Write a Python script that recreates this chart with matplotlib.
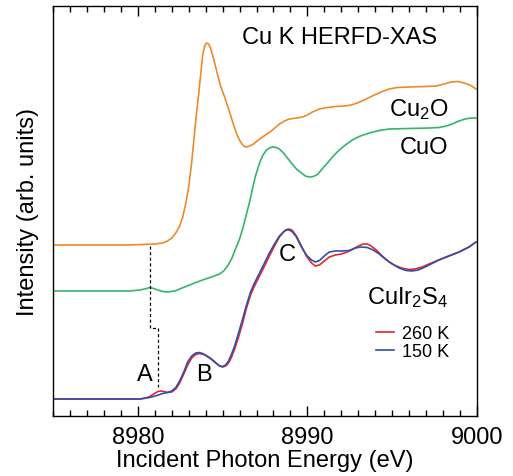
import matplotlib
matplotlib.use("Agg")
import matplotlib.pyplot as plt
from matplotlib.ticker import MultipleLocator

plt.rcParams['font.family'] = ['Liberation Sans', 'DejaVu Sans']
plt.rcParams['mathtext.default'] = 'regular'

# Cu2O reference (offset)
e_cu2o = [8975.00, 8979.53, 8981.00, 8981.47, 8981.76, 8982.00, 8982.24, 8982.47, 8982.65, 8982.82,
          8983.00, 8983.18, 8983.35, 8983.47, 8983.59, 8983.71, 8983.82, 8983.94, 8984.06, 8984.18,
          8984.29, 8984.41, 8984.53, 8984.71, 8984.88, 8985.12, 8985.41, 8985.65, 8985.88, 8986.06,
          8986.24, 8986.41, 8986.59, 8986.82, 8987.18, 8987.53, 8987.94, 8988.35, 8988.65, 8988.94,
          8989.35, 8989.71, 8990.00, 8990.29, 8990.71, 8991.18, 8991.65, 8992.18, 8992.59, 8992.94,
          8993.35, 8993.82, 8994.35, 8994.82, 8995.29, 8996.00, 8996.88, 8997.59, 8998.06, 8998.47,
          8998.88, 8999.24, 8999.59, 8999.94]
i_cu2o = [1.71, 1.71, 1.72, 1.73, 1.75, 1.78, 1.83, 1.90, 1.99, 2.12,
          2.29, 2.54, 2.84, 3.04, 3.22, 3.42, 3.60, 3.70, 3.73, 3.72,
          3.68, 3.61, 3.53, 3.41, 3.30, 3.19, 3.04, 2.91, 2.80, 2.74,
          2.70, 2.69, 2.70, 2.72, 2.77, 2.81, 2.86, 2.92, 2.95, 2.97,
          2.98, 2.99, 3.01, 3.04, 3.07, 3.085, 3.095, 3.10, 3.11, 3.13,
          3.16, 3.20, 3.24, 3.27, 3.285, 3.29, 3.295, 3.30, 3.32, 3.34,
          3.345, 3.33, 3.31, 3.27]

# CuO reference (offset)
e_cuo = [8975.00, 8979.53, 8980.12, 8980.41, 8980.71, 8980.94, 8981.18, 8981.47, 8981.76, 8982.18,
         8982.76, 8983.35, 8983.82, 8984.35, 8984.82, 8985.06, 8985.29, 8985.53, 8985.76, 8986.00,
         8986.18, 8986.41, 8986.59, 8986.76, 8986.94, 8987.18, 8987.35, 8987.59, 8987.76, 8987.94,
         8988.18, 8988.35, 8988.59, 8988.82, 8989.06, 8989.35, 8989.65, 8989.88, 8990.12, 8990.35,
         8990.59, 8990.82, 8991.18, 8991.53, 8991.88, 8992.24, 8992.65, 8993.12, 8993.65, 8994.24,
         8994.82, 8996.00, 8997.18, 8997.76, 8998.18, 8998.53, 8998.94, 8999.29, 8999.65, 8999.94]
i_cuo = [1.25, 1.25, 1.26, 1.27, 1.285, 1.275, 1.26, 1.245, 1.24, 1.25,
         1.29, 1.33, 1.36, 1.39, 1.42, 1.45, 1.50, 1.57, 1.67, 1.77,
         1.87, 2.02, 2.14, 2.27, 2.40, 2.53, 2.60, 2.66, 2.68, 2.69,
         2.685, 2.67, 2.63, 2.58, 2.53, 2.47, 2.43, 2.40, 2.39, 2.395,
         2.415, 2.46, 2.53, 2.60, 2.66, 2.71, 2.76, 2.80, 2.83, 2.855,
         2.87, 2.875, 2.88, 2.885, 2.90, 2.92, 2.95, 2.97, 2.98, 2.98]

# CuIr2S4 at 260 K
e_260 = [8975.00, 8980.12, 8980.47, 8980.71, 8980.94, 8981.18, 8981.35, 8981.53, 8981.76, 8982.00,
         8982.24, 8982.47, 8982.71, 8982.94, 8983.18, 8983.41, 8983.65, 8983.88, 8984.12, 8984.35,
         8984.59, 8984.82, 8985.00, 8985.18, 8985.35, 8985.53, 8985.71, 8985.94, 8986.18, 8986.41,
         8986.65, 8986.88, 8987.18, 8987.47, 8987.76, 8988.06, 8988.35, 8988.59, 8988.76, 8988.94,
         8989.12, 8989.35, 8989.65, 8989.94, 8990.24, 8990.47, 8990.71, 8991.00, 8991.29, 8991.65,
         8992.00, 8992.35, 8992.71, 8993.00, 8993.29, 8993.53, 8993.76, 8994.06, 8994.41, 8994.82,
         8995.24, 8995.65, 8996.00, 8996.35, 8996.76, 8997.18, 8997.59, 8998.18, 8998.94, 8999.53,
         8999.94]
i_260 = [0.17, 0.17, 0.18, 0.195, 0.22, 0.245, 0.25, 0.245, 0.235, 0.24,
         0.27, 0.33, 0.42, 0.51, 0.58, 0.615, 0.625, 0.615, 0.595, 0.57,
         0.535, 0.50, 0.49, 0.50, 0.53, 0.59, 0.67, 0.79, 0.93, 1.08,
         1.21, 1.30, 1.40, 1.50, 1.60, 1.70, 1.79, 1.84, 1.865, 1.87,
         1.855, 1.80, 1.70, 1.60, 1.53, 1.50, 1.51, 1.55, 1.59, 1.61,
         1.62, 1.64, 1.67, 1.70, 1.72, 1.72, 1.70, 1.66, 1.60, 1.54,
         1.50, 1.475, 1.465, 1.47, 1.49, 1.52, 1.55, 1.59, 1.64, 1.69,
         1.74]

# CuIr2S4 at 150 K
e_150 = [8975.00, 8980.12, 8980.71, 8981.12, 8981.47, 8981.76, 8982.00, 8982.24, 8982.47, 8982.71,
         8982.94, 8983.18, 8983.41, 8983.65, 8983.88, 8984.12, 8984.35, 8984.59, 8984.82, 8985.00,
         8985.18, 8985.35, 8985.53, 8985.71, 8985.94, 8986.18, 8986.41, 8986.65, 8986.88, 8987.18,
         8987.47, 8987.76, 8988.06, 8988.35, 8988.59, 8988.76, 8988.94, 8989.12, 8989.35, 8989.65,
         8989.94, 8990.24, 8990.47, 8990.71, 8991.00, 8991.29, 8991.65, 8992.00, 8992.47, 8992.82,
         8993.18, 8993.53, 8993.88, 8994.24, 8994.59, 8995.00, 8995.41, 8995.82, 8996.18, 8996.53,
         8996.88, 8997.29, 8997.76, 8998.35, 8998.94, 8999.53, 8999.94]
i_150 = [0.17, 0.17, 0.185, 0.205, 0.225, 0.235, 0.25, 0.285, 0.35, 0.44,
         0.54, 0.60, 0.63, 0.635, 0.62, 0.595, 0.565, 0.53, 0.50, 0.495,
         0.51, 0.55, 0.62, 0.70, 0.83, 0.97, 1.11, 1.24, 1.33, 1.43,
         1.53, 1.63, 1.72, 1.80, 1.84, 1.86, 1.86, 1.84, 1.79, 1.69,
         1.61, 1.56, 1.54, 1.555, 1.60, 1.64, 1.65, 1.65, 1.655, 1.68,
         1.69, 1.685, 1.66, 1.62, 1.57, 1.52, 1.48, 1.455, 1.45, 1.46,
         1.485, 1.52, 1.56, 1.60, 1.64, 1.69, 1.74]

# dashed guide from Cu2O edge to feature A
guide_e = [8980.71, 8980.71, 8981.18, 8981.18]
guide_i = [1.70, 0.88, 0.88, 0.29]

fig = plt.figure(figsize=(5.13, 4.77), dpi=100)
ax = fig.add_axes([0.1033, 0.1258, 0.8265, 0.8595])

ax.plot(e_cu2o, i_cu2o, color='#ED8A2C', lw=1.2)
ax.plot(e_cuo, i_cuo, color='#35B46C', lw=1.2)
ax.plot(e_260, i_260, color='#E8242C', lw=1.2, label='260 K')
ax.plot(e_150, i_150, color='#3050AC', lw=1.2, label='150 K')
ax.plot(guide_e, guide_i, color='black', lw=0.9, ls=(0, (2.5, 2)))

ax.set_xlim(8975, 9000)
ax.set_ylim(0, 4.10)
ax.xaxis.set_major_locator(MultipleLocator(10))
ax.xaxis.set_minor_locator(MultipleLocator(1))
ax.tick_params(axis='x', which='both', direction='in', top=True, width=1, labelsize=17, pad=7)
ax.tick_params(axis='x', which='major', length=7)
ax.tick_params(axis='x', which='minor', length=4.3)
ax.set_yticks([])
for s in ax.spines.values():
    s.set_linewidth(1.0)

ax.set_xlabel('Incident Photon Energy (eV)', fontsize=17, labelpad=1)
ax.set_ylabel('Intensity (arb. units)', fontsize=17, labelpad=10)

ax.text(8991.88, 3.79, 'Cu K HERFD-XAS', fontsize=17, ha='center', va='center')
ax.text(8998.3, 3.07, 'Cu$_2$O', fontsize=17, ha='right', va='center')
ax.text(8998.3, 2.69, 'CuO', fontsize=17, ha='right', va='center')
ax.text(8998.3, 1.19, 'CuIr$_2$S$_4$', fontsize=17, ha='right', va='center')
ax.text(8980.4, 0.42, 'A', fontsize=17, ha='center', va='center')
ax.text(8983.9, 0.42, 'B', fontsize=17, ha='center', va='center')
ax.text(8988.8, 1.62, 'C', fontsize=17, ha='center', va='center')

ax.legend(loc='upper right', bbox_to_anchor=(0.934, 0.222), frameon=False, fontsize=13,
          handlelength=1.0, handletextpad=0.45, labelspacing=0.05, borderpad=0, borderaxespad=0)

fig.savefig('out.png', dpi=100)
